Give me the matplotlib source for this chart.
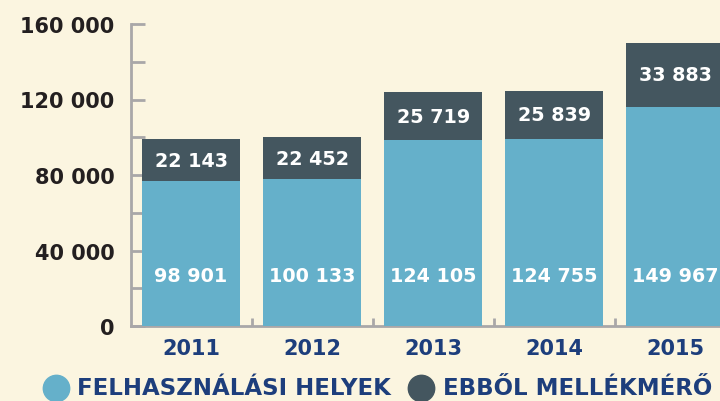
import matplotlib.pyplot as plt
from matplotlib.lines import Line2D
import numpy as np

# adatok
evek = ["2011", "2012", "2013", "2014", "2015"]
felhasznalasi_helyek = [98901, 100133, 124105, 124755, 149967]
ebbol_mellekmero = [22143, 22452, 25719, 25839, 33883]

hatter = "#FBF5E0"
vilagoskek = "#65B0CA"
sotet = "#44565F"
kek_szoveg = "#1D3E7C"
szurke = "#A9A7A8"


def fmt(v):
    return f"{v:,}".replace(",", " ")


fig = plt.figure(figsize=(7.2, 4.02), dpi=100, facecolor=hatter)
ax = fig.add_axes([131 / 720, 1 - 327 / 402, 1 - 131 / 720, (327 - 25) / 402])
ax.set_facecolor(hatter)

x = np.arange(len(evek))
also = [t - m for t, m in zip(felhasznalasi_helyek, ebbol_mellekmero)]
ax.bar(x, also, width=0.81, color=vilagoskek, zorder=2)
ax.bar(x, ebbol_mellekmero, width=0.81, bottom=also, color=sotet, zorder=2)

for i in range(len(evek)):
    ax.text(x[i], 26500, fmt(felhasznalasi_helyek[i]), color="white",
            ha="center", va="center", fontsize=13.8, fontweight="bold")
    ax.text(x[i], also[i] + ebbol_mellekmero[i] / 2, fmt(ebbol_mellekmero[i]),
            color="white", ha="center", va="center", fontsize=13.8,
            fontweight="bold")

ax.set_xlim(-0.496, 4.37)
ax.set_ylim(0, 160000)

ax.set_yticks([0, 40000, 80000, 120000, 160000])
ax.set_yticklabels([fmt(v) for v in [0, 40000, 80000, 120000, 160000]])
ax.set_yticks([20000, 60000, 100000, 140000], minor=True)
ax.tick_params(axis="y", which="both", direction="in", length=10, width=2,
               color=szurke, pad=12, labelsize=15, labelcolor="#231F20")
for lab in ax.get_yticklabels():
    lab.set_fontweight("bold")

ax.set_xticks(x)
ax.set_xticklabels(evek, fontsize=15, fontweight="bold", color=kek_szoveg)
ax.tick_params(axis="x", which="major", length=0, pad=9)
ax.set_xticks([0.5, 1.5, 2.5, 3.5], minor=True)
ax.tick_params(axis="x", which="minor", direction="in", length=6, width=2,
               color=szurke)

for s in ["top", "right"]:
    ax.spines[s].set_visible(False)
for s in ["left", "bottom"]:
    ax.spines[s].set_color(szurke)
    ax.spines[s].set_linewidth(2)
    ax.spines[s].set_zorder(1)

# jelmagyarázat
fig.add_artist(Line2D([56 / 720], [1 - 389 / 402], marker="o", markersize=19,
                      color=vilagoskek, transform=fig.transFigure))
fig.text(77 / 720, 1 - 389 / 402, "FELHASZNÁLÁSI HELYEK", color=kek_szoveg,
         fontsize=16.5, fontweight="bold", va="center", ha="left")
fig.add_artist(Line2D([421 / 720], [1 - 389 / 402], marker="o", markersize=19,
                      color=sotet, transform=fig.transFigure))
fig.text(443 / 720, 1 - 389 / 402, "EBBŐL MELLÉKMÉRŐ", color=kek_szoveg,
         fontsize=16.5, fontweight="bold", va="center", ha="left")

fig.savefig("out.png", dpi=100, facecolor=hatter)
